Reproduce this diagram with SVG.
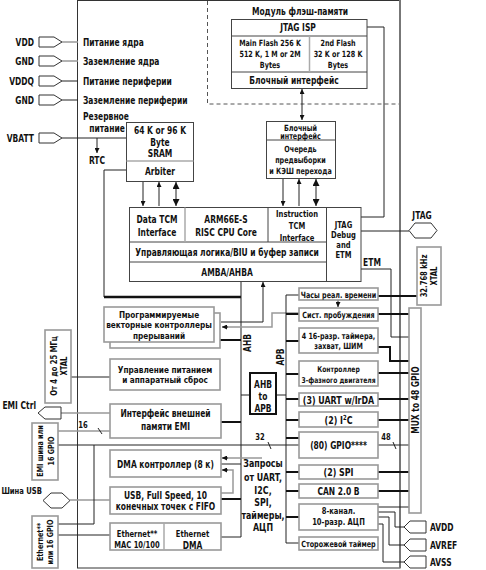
<svg xmlns="http://www.w3.org/2000/svg" width="486" height="570" viewBox="0 0 486 570">
<defs>
<style>
text{font-family:"Liberation Sans Narrow","DejaVu Sans Condensed","Liberation Sans",sans-serif;font-weight:bold;font-size:10px;fill:#111;text-anchor:middle}
.s8{font-size:8px}.s85{font-size:8.5px}.s9{font-size:9px}.s95{font-size:9.5px}.s105{font-size:10.5px}
.l{text-anchor:start}.r{text-anchor:end}
.bd{fill:#fff;stroke:#444;stroke-width:1}
.bg{fill:#fff;stroke:#999;stroke-width:1.6}
.bk{fill:#fff;stroke:#111;stroke-width:2}
.ln{fill:none;stroke:#222;stroke-width:1}
.th{fill:none;stroke:#111;stroke-width:2}
.gl{fill:none;stroke:#999;stroke-width:1.5}
.dv{fill:none;stroke:#444;stroke-width:1}
.dg{fill:none;stroke:#aaa;stroke-width:1.5}
.pin{fill:#fff;stroke:#333;stroke-width:1}
</style>
<marker id="a" viewBox="0 0 6 6" refX="6" refY="3" markerWidth="5" markerHeight="5" orient="auto-start-reverse"><path d="M0,0L6,3L0,6z" fill="#111"/></marker>
<marker id="A" viewBox="0 0 6 6" refX="6" refY="3" markerWidth="7" markerHeight="7" orient="auto-start-reverse"><path d="M0,0L6,3L0,6z" fill="#111"/></marker>
</defs>

<g id="chip">
<rect x="77.5" y="0.5" width="322.5" height="567.5" fill="none" stroke="#333" stroke-width="1"/>
<line x1="400" y1="0" x2="400" y2="568" stroke="#777" stroke-width="2"/>
<path d="M207.5,1V104H399" fill="none" stroke="#555" stroke-width="1" stroke-dasharray="4,3"/>
<text transform="translate(300,15) scale(.84,1)">Модуль флэш-памяти</text>
</g>

<g id="connectors">
<path class="gl" d="M62,42H78M62,61H78"/>
<path class="ln" d="M62,81H78M62,100H78M62,138H126"/>
<path class="ln" d="M97,138V153" marker-end="url(#a)"/>
<path class="ln" d="M302,89V120" marker-start="url(#a)" marker-end="url(#a)"/>
<path class="ln" d="M367,27H384V217H361"/>
<path class="ln" d="M143,181V206" marker-end="url(#a)"/>
<path class="ln" d="M159,206V182" marker-end="url(#a)"/>
<path class="ln" d="M176,182V206" marker-start="url(#A)" marker-end="url(#A)"/>
<path class="ln" d="M283,178V206" marker-end="url(#a)"/>
<path class="ln" d="M299,206V179" marker-end="url(#a)"/>
<path class="ln" d="M316,179V206" marker-start="url(#A)" marker-end="url(#A)"/>
<path class="ln" d="M126,170H104V297"/>
<path d="M104,297H241" fill="none" stroke="#111" stroke-width="2.5"/>
<path class="ln" d="M241,281V537" stroke-width="1.5"/>
<path class="ln" d="M263,322V282" marker-end="url(#a)"/>
<path class="ln" d="M263,322H221"/>
<path class="gl" d="M299,313H272V327H223" stroke-width="1.2"/>
<path d="M228,327H222" class="ln" marker-end="url(#a)"/>
<path class="th" d="M220,340H241"/>
<path class="ln" d="M361,231H409"/>
<path class="ln" d="M361,269H391V337H409"/>
<path class="th" d="M221,422H241M221,499H241"/>
<path class="ln" d="M221,464H241M221,537H241" stroke-width="1.5"/>
<path class="ln" d="M241,395H250M276,395H286" stroke-width="1.5"/>
<path class="ln" d="M286,295V543H299M286,295H299" stroke-width="1.5"/>
<path class="th" d="M286,314H299M286,341H299M286,374H299M286,399H299M286,420H299M286,438H299M286,472H299M286,491H299M286,517H299"/>
<path class="ln" d="M338,300V307" marker-end="url(#a)"/>
<path class="th" d="M378,296H417M378,314H409M378,347H390V361H409M378,373H409M378,399H409M378,420H409M378,472H409M378,491H409"/>
<path class="ln" d="M378,445H409M378,507H409"/>
<path class="ln" d="M393,442L396,449"/>
<path class="ln" d="M378,512H395V527H404M378,517H389V545H404M378,524H383V562H404"/>
<path class="ln" d="M71,377H110"/>
<path class="gl" d="M61,413H110M58,431H110M70,500H110" stroke-width="1.2"/>
<path class="ln" d="M98,428L102,434"/>
<path class="ln" d="M58,445H299M94,445V524H58M58,535H110"/>
<path class="ln" d="M268,442L271,449"/>
<path class="gl" d="M262,458H223" stroke-width="1.2"/>
<path d="M228,458H222" class="ln" marker-end="url(#a)"/>
<path class="gl" d="M221,493H233V470H223" stroke-width="1.2"/>
<path d="M228,470H222" class="ln" marker-end="url(#a)"/>
</g>

<g id="pins-left">
<path class="pin" d="M39,37H54L62,42L54,47H39Z"/>
<path class="pin" d="M39,56H54L62,61L54,66H39Z"/>
<path class="pin" d="M39,76H54L62,81L54,86H39Z"/>
<path class="pin" d="M39,95H54L62,100L54,105H39Z"/>
<path class="pin" d="M39,133H54L62,138L54,143H39Z"/>
<text class="r" transform="translate(34,45.5) scale(.84,1)">VDD</text>
<text class="r" transform="translate(34,64.5) scale(.84,1)">GND</text>
<text class="r" transform="translate(34,84.5) scale(.84,1)">VDDQ</text>
<text class="r" transform="translate(34,103.5) scale(.84,1)">GND</text>
<text class="r" transform="translate(34,141.5) scale(.84,1)">VBATT</text>
<text class="l" transform="translate(83,45.5) scale(.84,1)">Питание ядра</text>
<text class="l" transform="translate(83,64.5) scale(.84,1)">Заземление ядра</text>
<text class="l" transform="translate(83,84.5) scale(.84,1)">Питание периферии</text>
<text class="l" transform="translate(83,103.5) scale(.84,1)">Заземление периферии</text>
<text transform="translate(106,119.5) scale(.84,1)">Резервное</text>
<text transform="translate(107,132) scale(.84,1)">питание</text>
<text transform="translate(97,164) scale(.84,1)">RTC</text>
</g>

<g id="flash">
<rect class="bd" x="231.5" y="19.5" width="135.5" height="69"/>
<path class="dv" d="M231.5,36H367M231.5,72H367"/>
<path class="dg" d="M309.5,36V72"/>
<text transform="translate(298,31) scale(.84,1)">JTAG ISP</text>
<text class="s85" transform="translate(270,46) scale(.84,1)">Main Flash 256 K</text>
<text class="s85" transform="translate(270,57) scale(.84,1)">512 K, 1 M or 2M</text>
<text class="s85" transform="translate(270,67.5) scale(.84,1)">Bytes</text>
<text class="s85" transform="translate(338,46) scale(.84,1)">2nd Flash</text>
<text class="s85" transform="translate(338,57) scale(.84,1)">32 K or 128 K</text>
<text class="s85" transform="translate(338,67.5) scale(.84,1)">Bytes</text>
<text transform="translate(294,83.5) scale(.84,1)">Блочный интерфейс</text>
</g>

<g id="cache">
<rect class="bd" x="266.5" y="121.5" width="69" height="57"/>
<path class="dv" d="M266.5,140H335.5"/>
<text class="s85" transform="translate(300.5,130.5) scale(.84,1)">Блочный</text>
<text class="s85" transform="translate(300.5,139) scale(.84,1)">интерфейс</text>
<text class="s85" transform="translate(300.5,151.5) scale(.84,1)">Очередь</text>
<text class="s85" transform="translate(300.5,163) scale(.84,1)">предвыборки</text>
<text class="s85" transform="translate(300.5,174) scale(.84,1)">и КЭШ перехода</text>
</g>

<g id="sram">
<rect class="bd" x="126.5" y="122.5" width="67" height="59"/>
<path class="dg" d="M126.5,161H193.5"/>
<text transform="translate(160,133.5) scale(.84,1)">64 K or 96 K</text>
<text transform="translate(160,145.5) scale(.84,1)">Byte</text>
<text transform="translate(160,156.5) scale(.84,1)">SRAM</text>
<text transform="translate(160,174.5) scale(.84,1)">Arbiter</text>
</g>

<g id="cpu">
<rect class="bd" x="129.5" y="207.5" width="197" height="74"/>
<path class="dv" d="M129.5,242H326.5M129.5,262H326.5M268,207.5V242"/>
<path class="dg" d="M185,207.5V242"/>
<text transform="translate(157,223) scale(.84,1)">Data TCM</text>
<text transform="translate(157,235.5) scale(.84,1)">Interface</text>
<text transform="translate(226,223) scale(.84,1)">ARM66E-S</text>
<text transform="translate(226,235.5) scale(.84,1)">RISC CPU Core</text>
<text class="s9" transform="translate(297,216.5) scale(.84,1)">Instruction</text>
<text class="s9" transform="translate(297,228.5) scale(.84,1)">TCM</text>
<text class="s9" transform="translate(297,240.5) scale(.84,1)">Interface</text>
<text transform="translate(227,255.5) scale(.84,1)">Управляющая логика/BIU и буфер записи</text>
<text transform="translate(227,275.5) scale(.84,1)">AMBA/AHBA</text>
</g>

<g id="jtag-debug">
<rect class="bd" x="326.5" y="207.5" width="34.5" height="74"/>
<text class="s9" transform="translate(343.5,228) scale(.84,1)">JTAG</text>
<text class="s9" transform="translate(343.5,238) scale(.84,1)">Debug</text>
<text class="s9" transform="translate(343.5,248) scale(.84,1)">and</text>
<text class="s9" transform="translate(343.5,258) scale(.84,1)">ETM</text>
</g>

<g id="jtag-pin">
<path class="pin" d="M409,230.5L415,223H431L437,230.5L431,238H415Z"/>
<text transform="translate(422,219) scale(.84,1)">JTAG</text>
<text transform="translate(372,265.5) scale(.84,1)">ETM</text>
</g>

<g id="xtal32">
<rect class="bg" x="417" y="247" width="24" height="58"/>
<text class="s9" transform="translate(427,276) rotate(-90) scale(.84,1)">32.768 kHz</text>
<text class="s9" transform="translate(437,276) rotate(-90) scale(.84,1)">XTAL</text>
</g>

<g id="mux">
<rect class="bg" x="409" y="308" width="12" height="205"/>
<text transform="translate(418.5,400) rotate(-90) scale(.84,1)">MUX to 48 GPIO</text>
</g>

<g id="vic">
<rect class="bg" x="110" y="313" width="110" height="35"/>
<rect class="bg" x="104" y="307" width="110" height="35"/>
<text class="s95" transform="translate(159,317.5) scale(.86,1)">Программируемые</text>
<text class="s95" transform="translate(159,328) scale(.86,1)">векторные контроллеры</text>
<text class="s95" transform="translate(159,338.5) scale(.86,1)">прерываний</text>
</g>

<g id="power">
<rect class="bg" x="110" y="359" width="110" height="31"/>
<text class="s95" transform="translate(165,372.5) scale(.86,1)">Управление питанием</text>
<text class="s95" transform="translate(165,383) scale(.86,1)">и аппаратный сброс</text>
</g>

<g id="xtal">
<rect class="bg" x="45" y="330" width="26" height="73"/>
<text class="s9" transform="translate(57,366) rotate(-90) scale(.84,1)">От 4 до 25 МГц</text>
<text class="s9" transform="translate(67,366) rotate(-90) scale(.84,1)">XTAL</text>
</g>

<g id="emi-ctrl">
<path class="pin" d="M38,413L45,407H61V419H45Z"/>
<text class="r" transform="translate(36,409) scale(.84,1)">EMI Ctrl</text>
</g>

<g id="emi">
<rect class="bg" x="110" y="404" width="111" height="34"/>
<text transform="translate(165.5,417) scale(.84,1)">Интерфейс внешней</text>
<text transform="translate(165.5,430) scale(.84,1)">памяти EMI</text>
<text class="s9" transform="translate(83,428) scale(.84,1)">16</text>
</g>

<g id="emi-gpio">
<rect class="bg" x="32" y="423" width="26" height="57"/>
<text class="s85" transform="translate(43,451) rotate(-90) scale(.84,1)">EMI шина или</text>
<text class="s85" transform="translate(54,451) rotate(-90) scale(.84,1)">16 GPIO</text>
</g>

<g id="ahb-apb">
<rect class="bk" x="250" y="373" width="26" height="41"/>
<text transform="translate(263,388) scale(.84,1)">AHB</text>
<text transform="translate(263,400) scale(.84,1)">to</text>
<text transform="translate(263,412) scale(.84,1)">APB</text>
<text transform="translate(250.5,343) rotate(-90) scale(.84,1)">AHB</text>
<text transform="translate(283.5,357) rotate(-90) scale(.84,1)">APB</text>
<text class="s9" transform="translate(260,440) scale(.84,1)">32</text>
<text class="s9" transform="translate(386,440) scale(.84,1)">48</text>
</g>

<g id="dma">
<rect class="bg" x="110" y="450" width="111" height="27"/>
<text transform="translate(165.5,468) scale(.84,1)">DMA контроллер (8 к)</text>
</g>

<g id="requests">
<text class="s105" transform="translate(263,467) scale(.84,1)">Запросы</text>
<text class="s105" transform="translate(263,481) scale(.84,1)">от UART,</text>
<text class="s105" transform="translate(263,494) scale(.84,1)">I2C,</text>
<text class="s105" transform="translate(263,506) scale(.84,1)">SPI,</text>
<text class="s105" transform="translate(263,519) scale(.84,1)">таймеры,</text>
<text class="s105" transform="translate(263,531) scale(.84,1)">АЦП</text>
</g>

<g id="usb">
<rect class="bg" x="110" y="487" width="111" height="27"/>
<text transform="translate(165.5,498.5) scale(.84,1)">USB, Full Speed, 10</text>
<text transform="translate(165.5,510) scale(.84,1)">конечных точек с FIFO</text>
<path class="pin" d="M43,500.5L51,493H62L70,500.5L62,508H51Z"/>
<text class="r s95" transform="translate(42,494) scale(.8,1)">Шина USB</text>
</g>

<g id="ethernet">
<rect class="bg" x="110" y="523" width="111" height="27"/>
<path class="dg" d="M164,523V550"/>
<text class="s9" transform="translate(137,536.5) scale(.84,1)">Ethernet**</text>
<text class="s9" transform="translate(137,548) scale(.84,1)">MAC 10/100</text>
<text class="s9" transform="translate(192.5,536.5) scale(.84,1)">Ethernet</text>
<text transform="translate(192.5,548.5) scale(.84,1)">DMA</text>
</g>

<g id="eth-gpio">
<rect class="bg" x="32" y="516" width="26" height="52"/>
<text class="s85" transform="translate(43,542) rotate(-90) scale(.84,1)">Ethernet**</text>
<text class="s85" transform="translate(53,542) rotate(-90) scale(.84,1)">или 16 GPIO</text>
</g>

<g id="peripherals">
<rect class="bg" x="299" y="288" width="79" height="12"/>
<text class="s85" transform="translate(338.5,297.5) scale(.84,1)">Часы реал. времени</text>
<rect class="bg" x="299" y="308" width="79" height="13"/>
<text class="s85" transform="translate(338.5,318) scale(.84,1)">Сист. пробуждения</text>
<rect class="bg" x="299" y="328" width="79" height="25"/>
<text class="s85" transform="translate(338.5,339) scale(.84,1)">4 16-разр. таймера,</text>
<text class="s85" transform="translate(338.5,348.5) scale(.84,1)">захват, ШИМ</text>
<rect class="bg" x="299" y="361" width="79" height="25"/>
<text class="s8" transform="translate(338.5,371.5) scale(.84,1)">Контроллер</text>
<text class="s8" transform="translate(338.5,382.5) scale(.84,1)">3-фазного двигателя</text>
<rect class="bg" x="299" y="393" width="79" height="13"/>
<text class="s105" transform="translate(338.5,403.5) scale(.84,1)">(3) UART w/IrDA</text>
<rect class="bg" x="299" y="412" width="79" height="15"/>
<text class="s105" transform="translate(338.5,423.5) scale(.84,1)">(2) I<tspan font-size="7" dy="-4">2</tspan><tspan dy="4">C</tspan></text>
<rect class="bg" x="299" y="432" width="79" height="26"/>
<text transform="translate(338.5,449) scale(.84,1)">(80) GPIO****</text>
<rect class="bg" x="299" y="465" width="79" height="14"/>
<text class="s105" transform="translate(338.5,476) scale(.84,1)">(2) SPI</text>
<rect class="bg" x="299" y="484" width="79" height="14"/>
<text transform="translate(338.5,495) scale(.84,1)">CAN 2.0 B</text>
<rect class="bg" x="299" y="504" width="79" height="26"/>
<text class="s9" transform="translate(338.5,514) scale(.84,1)">8-канал.</text>
<text class="s9" transform="translate(338.5,525) scale(.84,1)">10-разр. АЦП</text>
<rect class="bg" x="299" y="537" width="79" height="13"/>
<text class="s85" transform="translate(338.5,547) scale(.84,1)">Сторожевой таймер</text>
</g>

<g id="analog-pins">
<path class="pin" d="M404,527L410,521H426V533H410Z"/>
<path class="pin" d="M404,545L410,539H426V551H410Z"/>
<path class="pin" d="M404,562L410,556H426V568H410Z"/>
<text class="l" transform="translate(430,531) scale(.84,1)">AVDD</text>
<text class="l" transform="translate(430,549) scale(.84,1)">AVREF</text>
<text class="l" transform="translate(430,566) scale(.84,1)">AVSS</text>
</g>
</svg>
